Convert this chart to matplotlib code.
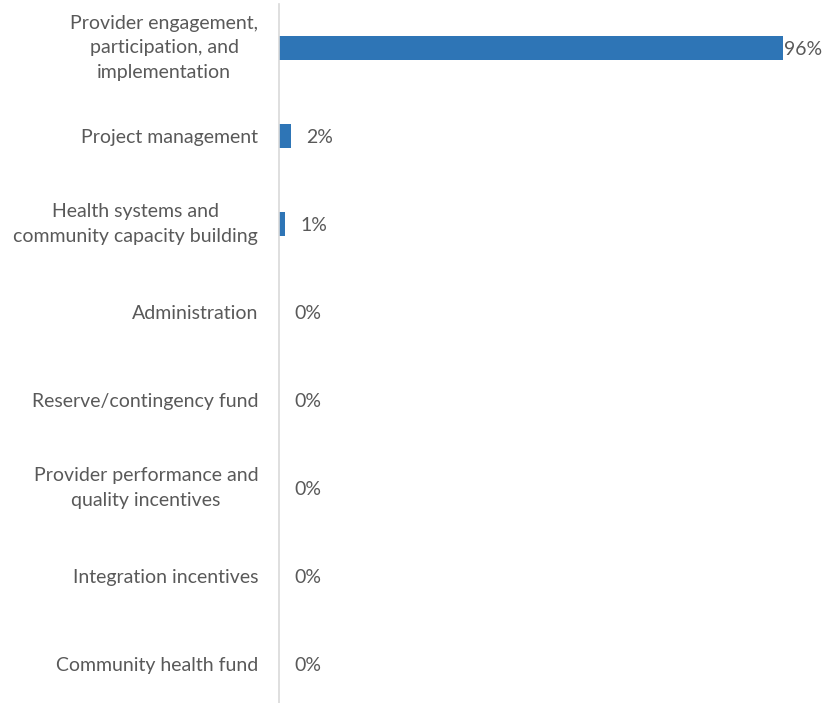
import matplotlib.pyplot as plt

categories = ['Provider engagement,\nparticipation, and\nimplementation',
              'Project management',
              'Health systems and\ncommunity capacity building',
              'Administration',
              'Reserve/contingency fund',
              'Provider performance and\nquality incentives',
              'Integration incentives',
              'Community health fund']
values = [96.3, 2.2, 1.1, 0, 0, 0, 0, 0]
value_labels = ['96%', '2%', '1%', '0%', '0%', '0%', '0%', '0%']

plt.rcParams['font.family'] = ['Lato', 'DejaVu Sans']
text_color = '#595959'

fig = plt.figure(figsize=(8.22, 7.03), dpi=100)
ax = fig.add_axes([279 / 822, -5 / 703, 523 / 822, 704 / 703])

y = list(range(len(categories)))
ax.barh(y, values, height=0.27, color='#2e75b6')
ax.set_xlim(0, 100)
ax.set_ylim(len(categories) - 0.5, -0.5)

ax.set_yticks(y)
ax.set_yticklabels(categories, fontsize=14, color=text_color, linespacing=1.56)
for lab in ax.get_yticklabels():
    lab.set_multialignment('center')
    if '\n' in lab.get_text():
        lab.set_verticalalignment('center')
ax.tick_params(axis='y', length=0, pad=15)
ax.set_xticks([])

for i, (v, lab) in enumerate(zip(values, value_labels)):
    off = 1 if v > 90 else 11
    ax.annotate(lab, (v, i), xytext=(off, 0), textcoords='offset points',
                va='center_baseline', ha='left', fontsize=14, color=text_color,
                annotation_clip=False)

for s in ['top', 'right', 'bottom']:
    ax.spines[s].set_visible(False)
ax.spines['left'].set_color('#d9d9d9')
ax.spines['left'].set_linewidth(1.2)

fig.savefig('out.png', dpi=100)
